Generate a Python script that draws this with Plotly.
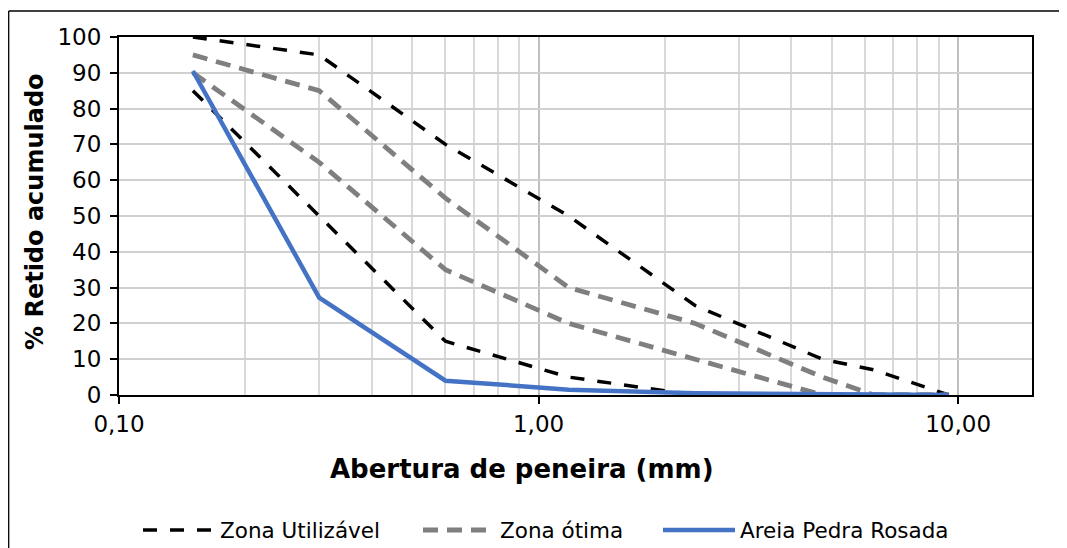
import plotly.graph_objects as go

# Sieve openings (mm)
sieves = [0.15, 0.3, 0.6, 1.18, 2.36, 4.75, 6.3, 9.5]

# Zona utilizável limits (% retido acumulado)
util_inf = [85, 50, 15, 5, 0, 0, 0, 0]
util_sup = [100, 95, 70, 50, 25, 10, 7, 0]

# Zona ótima limits
otima_inf = [90, 65, 35, 20, 10, 0, 0, 0]
otima_sup = [95, 85, 55, 30, 20, 5, 0, 0]

# Areia Pedra Rosada
areia = [90.5, 27.2, 4.0, 1.5, 0.5, 0.2, 0.0, 0.0]

x_tickvals = [0.1, 1, 10]
x_ticktext = ["0,10", "1,00", "10,00"]
y_tickvals = list(range(0, 101, 10))

FONT = "DejaVu Sans"

W, H = 1067, 548
OFF = 8  # page body offset
L, R, T, B = 111, 43, 29, 161
pw, ph = W - L - R, H - T - B


def sx(p):
    """screen x pixel -> paper x"""
    return (p - OFF - L) / pw


def sy(p):
    """screen y pixel -> paper y"""
    return (H - B - (p - OFF)) / ph


fig = go.Figure()

black_line = dict(color="#000000", width=3.5, dash="14px,13px")
grey_line = dict(color="#7f7f7f", width=4.8, dash="15px,9px")
blue_line = dict(color="#4472C4", width=4.5)

fig.add_trace(go.Scatter(x=sieves, y=util_inf, mode="lines", line=black_line,
                         name="Zona Utilizável", legend="legend", showlegend=True))
fig.add_trace(go.Scatter(x=sieves, y=util_sup, mode="lines", line=black_line,
                         name="Zona Utilizável", showlegend=False))
fig.add_trace(go.Scatter(x=sieves, y=otima_inf, mode="lines", line=grey_line,
                         name="Zona ótima", legend="legend2", showlegend=True))
fig.add_trace(go.Scatter(x=sieves, y=otima_sup, mode="lines", line=grey_line,
                         name="Zona ótima", showlegend=False))
fig.add_trace(go.Scatter(x=sieves, y=areia, mode="lines", line=blue_line,
                         name="Areia Pedra Rosada", legend="legend3", showlegend=True))

# outer chart-area border (left and top visible)
fig.add_shape(type="line", xref="paper", yref="paper",
              x0=sx(8.7), x1=sx(8.7), y0=sy(580), y1=sy(11),
              line=dict(color="#000000", width=1.3), layer="above")
fig.add_shape(type="line", xref="paper", yref="paper",
              x0=sx(8.7), x1=sx(1100), y0=sy(11), y1=sy(11),
              line=dict(color="#000000", width=1.3), layer="above")

# axis titles as annotations
fig.add_annotation(text="<b>Abertura de peneira (mm)</b>", xref="paper", yref="paper",
                   x=sx(522), y=sy(469), showarrow=False, xanchor="center", yanchor="middle",
                   font=dict(family=FONT, size=26, color="#000000"))
fig.add_annotation(text="<b>% Retido acumulado</b>", xref="paper", yref="paper",
                   x=sx(35), y=sy(212), showarrow=False, xanchor="center", yanchor="middle",
                   textangle=-90, font=dict(family=FONT, size=24, color="#000000"))

leg_common = dict(orientation="h", yanchor="middle", xanchor="left",
                  font=dict(family=FONT, size=21.5, color="#000000"),
                  itemwidth=72, bgcolor="rgba(0,0,0,0)")

fig.update_layout(
    width=W, height=H,
    margin=dict(l=L, r=R, t=T, b=B, autoexpand=False),
    paper_bgcolor="white", plot_bgcolor="white",
    font=dict(family=FONT, color="#000000", size=22),
    showlegend=True,
    legend=dict(x=sx(138), y=sy(530), **leg_common),
    legend2=dict(x=sx(418), y=sy(530), **leg_common),
    legend3=dict(x=sx(658), y=sy(530), **leg_common),
    xaxis=dict(
        type="log", range=[-1, 1.17609],
        tickmode="array", tickvals=x_tickvals, ticktext=x_ticktext,
        ticks="outside", ticklen=7, tickwidth=1.5, tickcolor="#000000",
        tickfont=dict(family=FONT, size=23),
        showline=True, linecolor="#000000", linewidth=2, mirror=True,
        showgrid=True, gridcolor="#bfbfbf", gridwidth=1.5,
        minor=dict(dtick="D1", showgrid=True, gridcolor="#d9d9d9", gridwidth=1.5, ticks=""),
        zeroline=False, automargin=False,
    ),
    yaxis=dict(
        range=[0, 100], tickmode="array", tickvals=y_tickvals,
        ticks="outside", ticklen=7, tickwidth=1.5, tickcolor="#000000",
        tickfont=dict(family=FONT, size=23), ticklabelstandoff=4,
        showline=True, linecolor="#000000", linewidth=2, mirror=True,
        showgrid=True, gridcolor="#d0d0d0", gridwidth=1.5,
        zeroline=False, automargin=False,
    ),
)

fig.write_html("out.html")
